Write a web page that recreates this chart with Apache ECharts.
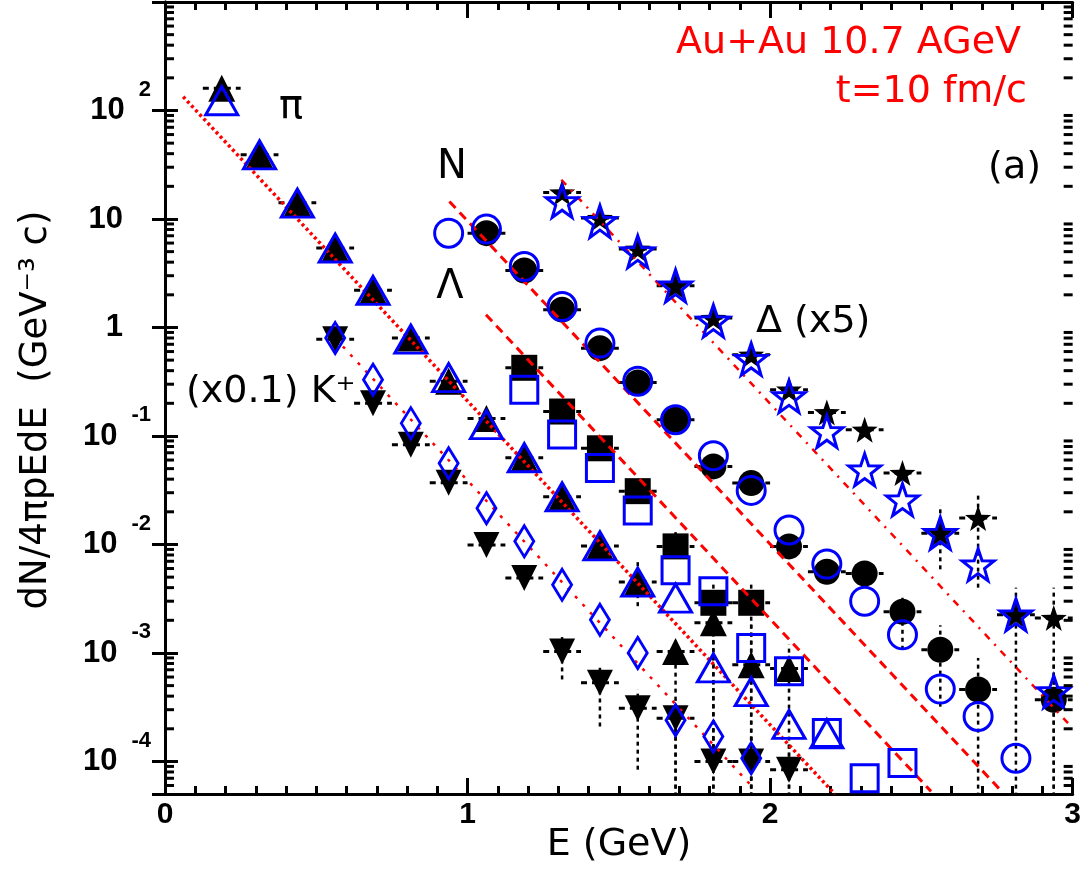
<!DOCTYPE html>
<html><head><meta charset="utf-8">
<script src="https://cdn.jsdelivr.net/npm/echarts@6/dist/echarts.min.js"></script>
<style>html,body{margin:0;padding:0;background:#fff}#c{width:1084px;height:875px}</style>
</head><body><div id="c"></div><script>
// ---- data ----
const xPi = [0.1875,0.3125,0.4375,0.5625,0.6875,0.8125,0.9375,1.0625,1.1875,1.3125,1.4375,1.5625,1.6875,1.8125,1.9375,2.0625,2.1875];
const piBlack = [160,39,14.1,5.4,2.2,0.80,0.32,0.145,0.063,0.0275,0.0097,0.0045,0.00103,0.0019,0.00078,0.00072,null];
const piBlue  = [123,39,14,5.4,2.2,0.78,0.345,0.127,0.063,0.0275,0.0097,0.0045,0.0032,0.00073,0.00044,0.00022,0.00018];
const piBlackErr = [null,null,null,null,null,null,null,null,null,null,null,[0.0027,0.0072],[4e-5,0.0013],[8e-5,0.0028],[4e-5,0.0020],[4e-5,0.0012],null];

const xK = [0.5625,0.6875,0.8125,0.9375,1.0625,1.1875,1.3125,1.4375,1.5625,1.6875,1.8125,1.9375,2.0625];
const kBlack = [0.78,0.20,0.083,0.037,0.0099,0.0049,0.00103,0.00053,0.00031,0.00025,0.00010,0.000100,0.000084];
const kBlue  = [0.80,0.33,0.131,0.056,0.0216,0.0107,0.00425,0.00202,0.00100,0.00024,0.00017,0.000107,null];
const kBlackErr = [null,null,null,null,null,null,[5.7e-4,1.4e-3],[2.1e-4,7.3e-4],[8.4e-5,4.6e-4],[4e-5,3.7e-4],[4e-5,1.6e-4],[4e-5,1.8e-4],[4e-5,1.5e-4]];

const xLam = [1.1875,1.3125,1.4375,1.5625,1.6875,1.8125,1.9375,2.0625,2.1875,2.3125,2.4375];
const lamBlack = [0.425,0.168,0.077,0.031,0.0096,0.0029,0.0029,null,null,null,null];
const lamBlue  = [0.267,0.103,0.0506,0.0206,0.0058,0.0037,0.00111,0.00068,0.000183,0.000070,0.000097];
const lamBlackErr = [null,null,null,null,[0.0075,0.013],[4e-5,0.0045],[4e-5,0.0045],null,null,null,null];

const xN = [0.9375,1.0625,1.1875,1.3125,1.4375,1.5625,1.6875,1.8125,1.9375,2.0625,2.1875,2.3125,2.4375,2.5625,2.6875,2.8125,2.9375];
const nBlack = [null,7.4,3.35,1.46,0.645,0.311,0.141,0.0524,0.0368,0.0096,0.0056,0.0054,0.0024,0.00107,0.00046,null,0.00037];
const nBlue  = [7.4,8.07,3.65,1.56,0.718,0.32,0.141,0.0657,0.0315,0.0136,0.0066,0.0030,0.00147,0.000465,0.00026,0.000107,null];
const nBlackErr = [null,null,null,null,null,null,null,null,null,null,null,[0.0042,0.0068],[0.00107,0.0034],[0.00032,0.0018],[4e-5,0.0009],null,[4e-5,0.0009]];

const xDelta = [1.3125,1.4375,1.5625,1.6875,1.8125,1.9375,2.0625,2.1875,2.3125,2.4375,2.5625,2.6875,2.8125,2.9375];
const deltaBlack = [17.5,10.2,5.3,2.42,1.22,0.56,0.267,0.165,0.114,0.0455,0.0127,0.0175,0.00225,0.0021];
const deltaBlue  = [14.5,9.5,5.0,2.42,1.15,0.51,0.231,0.11,0.0488,0.0258,0.0127,0.0065,0.00225,0.00044];
const deltaBlackErr = [null,null,null,null,null,null,null,null,null,null,[0.0059,0.023],[0.004,0.03],[4e-5,0.004],[4e-5,0.004]];

// exponential fits (endpoints)
const piFit = [[0.06,134],[2.214,5.0e-5]];
const kFit = [[0.588,0.668],[1.95,5.5e-5]];
const lamFit = [[1.061,1.31],[2.532,5.3e-5]];
const nFit = [[0.94,14.5],[2.76,5.5e-5]];
const deltaFit = [[1.31,23],[3.0,2.03e-4]];

// axes / ticks
const xTickLabels = ['0','1','2','3'];
const yTickExp  = [-4,-3,-2,-1,0,1,2];
const yTickBase = ['10','10','10','10','1','10','10'];
const yTickSup  = ['-4','-3','-2','-1','','','2'];
const yMin = Math.pow(10,-4.3), yMax = 1000;
const halfBin = 0.0625;
const yMinor = [];
for (let e = -5; e <= 2; e++) for (let m = 2; m <= 9; m++) { const v = m*Math.pow(10,e); if (v > yMin && v < yMax) yMinor.push([0, v]); }

// ---- helpers ----
function pts(xs, ys){ return xs.map((x,i)=> ys[i]==null ? null : [x, ys[i]]).filter(Boolean); }
function errPts(xs, ys, er){ return xs.map((x,i)=> ys[i]==null ? null : [x, ys[i], er[i]?er[i][0]:NaN, er[i]?er[i][1]:NaN]).filter(Boolean); }
function errItem(params, api){
  const x = api.value(0), y = api.value(1), lo = api.value(2), hi = api.value(3);
  const a = api.coord([x-halfBin, y]), b = api.coord([x+halfBin, y]);
  const ch = [{type:'line', shape:{x1:a[0],y1:a[1],x2:b[0],y2:b[1]}, style:{stroke:'#000', lineWidth:3, lineDash:[6,5]}}];
  if (!isNaN(lo) && !isNaN(hi)) {
    const p = api.coord([x, lo]), q = api.coord([x, hi]);
    ch.push({type:'line', shape:{x1:p[0],y1:p[1],x2:q[0],y2:q[1]}, style:{stroke:'#000', lineWidth:2.5, lineDash:[4,4]}});
  }
  return {type:'group', children: ch};
}
const STAR = 'path://M0,-50 L11.8,-16.2 L47.6,-15.5 L19,6.2 L29.4,40.5 L0,20 L-29.4,40.5 L-19,6.2 L-47.6,-15.5 L-11.8,-16.2 Z';
function black(name, xs, ys, symbol, size, rot){
  return {name, type:'scatter', data: pts(xs, ys), symbol, symbolSize: size, symbolRotate: rot||0, z:3,
    itemStyle:{color:'#000', opacity:1}, silent:true};
}
function blue(name, xs, ys, symbol, size, rot){
  return {name, type:'scatter', data: pts(xs, ys), symbol, symbolSize: size, symbolRotate: rot||0, z:5,
    itemStyle:{color:'rgba(0,0,0,0)', borderColor:'#0000ff', borderWidth:3, opacity:1}, silent:true};
}
function errs(name, xs, ys, er){
  return {name, type:'custom', data: errPts(xs, ys, er), encode:{x:0, y:1}, dimensions:['x','y','lo','hi'], renderItem: errItem, clip:true, z:2, silent:true};
}
function fit(name, data, lineStyle){
  return {name, type:'line', data, symbol:'none', showSymbol:false, z:4, silent:true, clip:true,
    lineStyle: Object.assign({color:'#ff0000'}, lineStyle)};
}

const FONT = 'DejaVu Sans';
const chart = echarts.init(document.getElementById('c'));
const axisLine = {show:true, lineStyle:{color:'#000', width:3}};
chart.setOption({
  animation:false,
  grid:{left:165, right:11, top:2, bottom:81},
  xAxis:[
    {type:'value', min:0, max:3, interval:1, position:'bottom', axisLine,
     axisTick:{show:true, inside:true, length:16, lineStyle:{color:'#000', width:3}},
     minorTick:{show:true, splitNumber:10, length:8, lineStyle:{color:'#000', width:3}},
     splitLine:{show:false}, minorSplitLine:{show:false},
     axisLabel:{margin:6, fontFamily:'Liberation Sans', fontWeight:'bold', fontSize:30, color:'#000',
       formatter:(v)=> xTickLabels[Math.round(v)] || ''}},
    {type:'value', min:0, max:3, interval:1, position:'top', axisLine,
     axisTick:{show:true, inside:true, length:16, lineStyle:{color:'#000', width:3}},
     minorTick:{show:true, splitNumber:10, length:8, lineStyle:{color:'#000', width:3}},
     splitLine:{show:false}, axisLabel:{show:false}}
  ],
  yAxis:[
    {type:'log', logBase:10, min:yMin, max:yMax, position:'left', axisLine,
     axisTick:{show:true, inside:true, length:13, lineStyle:{color:'#000', width:3}},
     splitLine:{show:false},
     axisLabel:{margin:14, showMinLabel:false, showMaxLabel:false,
       formatter:(v)=>{
         const l = Math.log10(v), e = Math.round(l);
         if (Math.abs(l-e) > 1e-6) return '';
         const i = yTickExp.indexOf(e);
         if (i < 0) return '';
         return yTickSup[i] ? '{b|'+yTickBase[i]+'}{s|'+yTickSup[i]+'}' : '{p|'+yTickBase[i]+'}';
       },
       rich:{
         b:{fontFamily:'Liberation Sans', fontWeight:'bold', fontSize:31, lineHeight:64, color:'#000'},
         p:{fontFamily:'Liberation Sans', fontWeight:'bold', fontSize:31, lineHeight:64, color:'#000', padding:[0,28,0,0]},
         s:{fontFamily:'Liberation Sans', fontWeight:'bold', fontSize:22, lineHeight:22, color:'#000', verticalAlign:'top', padding:[0,0,0,14]}
       }}},
    {type:'log', logBase:10, min:yMin, max:yMax, position:'right', axisLine,
     axisTick:{show:true, inside:true, length:13, lineStyle:{color:'#000', width:3}},
     splitLine:{show:false}, axisLabel:{show:false}}
  ],
  series:[
    {name:'minorTicks', type:'custom', data:yMinor, encode:{x:0, y:1}, clip:false, z:6, silent:true,
     renderItem:(params, api)=>{
       const v = api.value(1);
       const pL = api.coord([0, v]), pR = api.coord([3, v]);
       return {type:'group', children:[
         {type:'line', shape:{x1:pL[0], y1:pL[1], x2:pL[0]+9, y2:pL[1]}, style:{stroke:'#000', lineWidth:3}},
         {type:'line', shape:{x1:pR[0], y1:pR[1], x2:pR[0]-9, y2:pR[1]}, style:{stroke:'#000', lineWidth:3}}]};
     }},
    errs('piErr', xPi, piBlack, piBlackErr),
    errs('kErr', xK, kBlack, kBlackErr),
    errs('lamErr', xLam, lamBlack, lamBlackErr),
    errs('nErr', xN, nBlack, nBlackErr),
    errs('deltaErr', xDelta, deltaBlack, deltaBlackErr),
    black('pi black', xPi, piBlack, 'triangle', 27),
    black('K black', xK, kBlack, 'triangle', 26, 180),
    black('Lambda black', xLam, lamBlack, 'rect', 26),
    black('N black', xN, nBlack, 'circle', 26),
    black('Delta black', xDelta, deltaBlack, STAR, 26),
    fit('pi fit', piFit, {type:[3,3], width:3.5}),
    fit('K fit', kFit, {type:[3,8], width:2.5}),
    fit('Lambda fit', lamFit, {type:[9,6], width:3}),
    fit('N fit', nFit, {type:[9,6], width:3}),
    fit('Delta fit', deltaFit, {type:[7,7,2,7], width:2.5}),
    blue('pi blue', xPi, piBlue, 'triangle', [32,28]),
    blue('K blue', xK, kBlue, 'diamond', [19,31]),
    blue('Lambda blue', xLam, lamBlue, 'rect', 27),
    blue('N blue', xN, nBlue, 'circle', 28),
    blue('Delta blue', xDelta, deltaBlue, STAR, 32)
  ],
  graphic:[
    {type:'text', x:291, y:108, style:{text:'π', font:'40px "'+FONT+'"', fill:'#000', align:'center', verticalAlign:'middle', textAlign:'center', textVerticalAlign:'middle'}},
    {type:'text', x:452, y:168, style:{text:'N', font:'40px "'+FONT+'"', fill:'#000', align:'center', verticalAlign:'middle', textAlign:'center', textVerticalAlign:'middle'}},
    {type:'text', x:450, y:288, style:{text:'Λ', font:'40px "'+FONT+'"', fill:'#000', align:'center', verticalAlign:'middle', textAlign:'center', textVerticalAlign:'middle'}},
    {type:'text', x:756, y:322, style:{text:'Δ (x5)', font:'38px "'+FONT+'"', fill:'#000', align:'left', verticalAlign:'middle', textAlign:'left', textVerticalAlign:'middle'}},
    {type:'text', x:186, y:392, style:{text:'(x0.1) K⁺', font:'38px "'+FONT+'"', fill:'#000', align:'left', verticalAlign:'middle', textAlign:'left', textVerticalAlign:'middle'}},
    {type:'text', x:1021, y:43, style:{text:'Au+Au 10.7 AGeV', font:'38px "'+FONT+'"', fill:'#ff0000', align:'right', verticalAlign:'middle', textAlign:'right', textVerticalAlign:'middle'}},
    {type:'text', x:1027, y:92, style:{text:'t=10 fm/c', font:'38px "'+FONT+'"', fill:'#ff0000', align:'right', verticalAlign:'middle', textAlign:'right', textVerticalAlign:'middle'}},
    {type:'text', x:1041, y:168, style:{text:'(a)', font:'38px "'+FONT+'"', fill:'#000', align:'right', verticalAlign:'middle', textAlign:'right', textVerticalAlign:'middle'}},
    {type:'text', x:619, y:845, style:{text:'E (GeV)', font:'38px "'+FONT+'"', fill:'#000', align:'center', verticalAlign:'middle', textAlign:'center', textVerticalAlign:'middle'}},
    {type:'text', x:36, y:410, rotation:Math.PI/2, style:{text:'dN/4πpEdE  (GeV⁻³ c)', font:'37px "'+FONT+'"', fill:'#000', align:'center', verticalAlign:'middle', textAlign:'center', textVerticalAlign:'middle'}}
  ]
});
</script></body></html>
